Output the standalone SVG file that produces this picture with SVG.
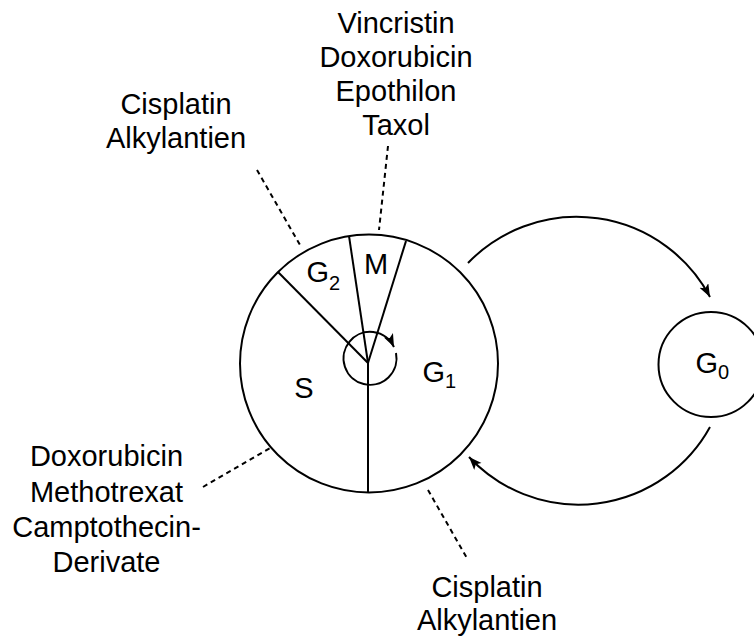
<svg xmlns="http://www.w3.org/2000/svg" width="754" height="639" viewBox="0 0 754 639">
  <style>
    .ln { fill: none; stroke: #000; stroke-width: 2; }
    .dash { fill: none; stroke: #000; stroke-width: 2; stroke-dasharray: 5 4; }
    .t { font-family: "Liberation Sans", Arial, sans-serif; font-size: 29px; fill: #000; }
    .c { text-anchor: middle; }
    .sub { font-size: 20px; }
  </style>
  <defs>
    <marker id="arr" markerUnits="userSpaceOnUse" markerWidth="14" markerHeight="12" refX="13" refY="5" orient="auto">
      <path d="M0,0 L13,5 L0,10 L3,5 Z" fill="#000"/>
    </marker>
  </defs>
  <rect width="754" height="639" fill="#fff"/>

  <g id="cycle">
    <circle class="ln" cx="369" cy="363.5" r="129"/>
    <line class="ln" x1="368" y1="363" x2="368" y2="492"/>
    <line class="ln" x1="368" y1="363" x2="278" y2="272"/>
    <line class="ln" x1="368" y1="363" x2="349" y2="236"/>
    <line class="ln" x1="368" y1="363" x2="406" y2="241"/>
    <path class="ln" d="M396,353 A26.5,26.5 0 1,1 394,347" marker-end="url(#arr)"/>
    <text class="t" x="306.5" y="282">G<tspan class="sub" dy="8">2</tspan></text>
    <text class="t c" x="376" y="274">M</text>
    <text class="t c" x="304" y="398">S</text>
    <text class="t" x="422.5" y="381.5">G<tspan class="sub" dy="6.5">1</tspan></text>
  </g>

  <g id="g0">
    <circle class="ln" cx="711" cy="364.5" r="52.5"/>
    <text class="t" x="695.5" y="373">G<tspan class="sub" dy="6">0</tspan></text>
  </g>

  <g id="label-m">
    <text class="t c" x="396" y="33">Vincristin</text>
    <text class="t c" x="396" y="67">Doxorubicin</text>
    <text class="t c" x="396" y="101">Epothilon</text>
    <text class="t c" x="396" y="135">Taxol</text>
  </g>
  <g id="label-g2">
    <text class="t c" x="176" y="114">Cisplatin</text>
    <text class="t c" x="176" y="148">Alkylantien</text>
  </g>
  <g id="label-s">
    <text class="t c" x="106.5" y="466">Doxorubicin</text>
    <text class="t c" x="106.5" y="501.5">Methotrexat</text>
    <text class="t c" x="106.5" y="536.5">Camptothecin-</text>
    <text class="t c" x="106.5" y="571.5">Derivate</text>
  </g>
  <g id="label-g1">
    <text class="t c" x="487" y="597">Cisplatin</text>
    <text class="t c" x="487" y="630">Alkylantien</text>
  </g>

  <g id="connectors">
    <path class="ln" d="M468,263 A151,151 0 0,1 710,297" marker-end="url(#arr)"/>
    <path class="ln" d="M710,427 A150,150 0 0,1 469,457" marker-end="url(#arr)"/>
    <line class="dash" x1="388" y1="146" x2="379" y2="230"/>
    <line class="dash" x1="257" y1="170" x2="300" y2="245"/>
    <line class="dash" x1="203" y1="487" x2="270" y2="448"/>
    <line class="dash" x1="428" y1="490" x2="468" y2="560"/>
  </g>
</svg>
